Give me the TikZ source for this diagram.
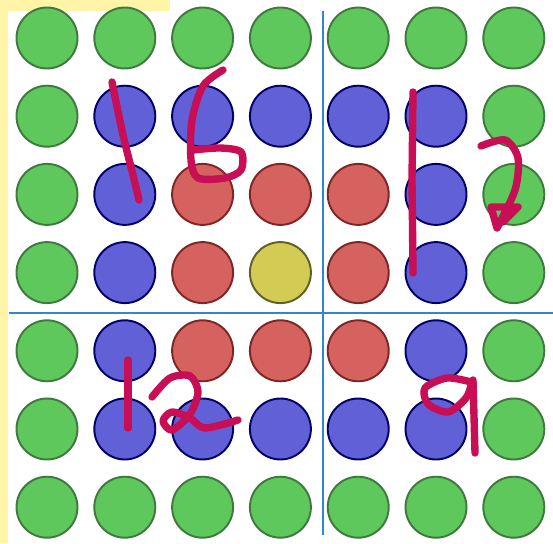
\documentclass[tikz,border=0pt]{standalone}
\usepackage{tikz}
\usetikzlibrary{arrows, math}
\usepackage{xcolor}

\definecolor{dotgreen}{RGB}{94,200,92}
\definecolor{dotblue}{RGB}{98,96,214}
\definecolor{dotred}{RGB}{214,98,96}
\definecolor{dotyellow}{RGB}{210,204,84}
\definecolor{splitblue}{RGB}{48,134,208}
\definecolor{inkred}{RGB}{200,14,84}
\definecolor{paperyellow}{RGB}{255,244,168}

\tikzset{
  dot/.style={circle, inner sep=0pt, minimum size=1.22cm, line width=1.1pt},
  dot3/.style={dot, fill=dotgreen, draw=green!30!black!75},
  dot2/.style={dot, fill=dotblue, draw=blue!40!black},
  dot1/.style={dot, fill=dotred, draw=red!40!black!85},
  dot0/.style={dot, fill=dotyellow, draw=olive!60!black},
  split/.style={draw=splitblue, line width=1.6pt},
  ink/.style={draw=inkred, line width=4.2pt, line cap=round, line join=round}
}

\begin{document}
\begin{tikzpicture}[x=0.02cm, y=-0.02cm]
\fill[white] (0,0) rectangle (553,543);
\useasboundingbox (0,0) rectangle (553,543);
\fill[paperyellow] (0,0) rectangle (8,543);
\fill[paperyellow] (0,0) rectangle (170,11);
\foreach \i in {1,...,7}{
  \foreach \j in {1,...,7}{
    \pgfmathtruncatemacro{\ring}{max(abs(\i-4),abs(\j-4))}
    \node[dot\ring] (c\i\j) at ({47+77.8*(\j-1)},{38+78.2*(\i-1)}) {};
  }
}
\draw[split] (323,11) -- (323,535);
\draw[split] (9,313) -- (553,313);
% 16
\draw[ink] plot[smooth] coordinates {(112,82) (123,135) (133,175) (139,200)};
\draw[ink] plot[smooth] coordinates {(223,70) (203,86) (192,120) (191,160) (198,178) (225,178) (241,170) (241,152) (220,148) (193,150)};
% 12
\draw[ink] (413,92) -- (412,180) -- (413,273);
\draw[ink] plot[smooth] coordinates {(481,146) (505,140) (518,158) (515,190) (497,228)} -- (491,207) -- (518,207) -- (503,222);
% 12
\draw[ink] (128,360) -- (128,428);
\draw[ink] plot[smooth] coordinates {(152,397) (170,378) (190,376) (198,392) (190,414) (172,430) (163,421) (172,412) (190,418) (205,428) (238,420)};
% 9
\draw[ink] plot[smooth] coordinates {(471,382) (447,378) (425,388) (428,404) (448,412) (466,398) (472,382)};
\draw[ink] (473,380) -- (475,453);
\end{tikzpicture}
\end{document}
